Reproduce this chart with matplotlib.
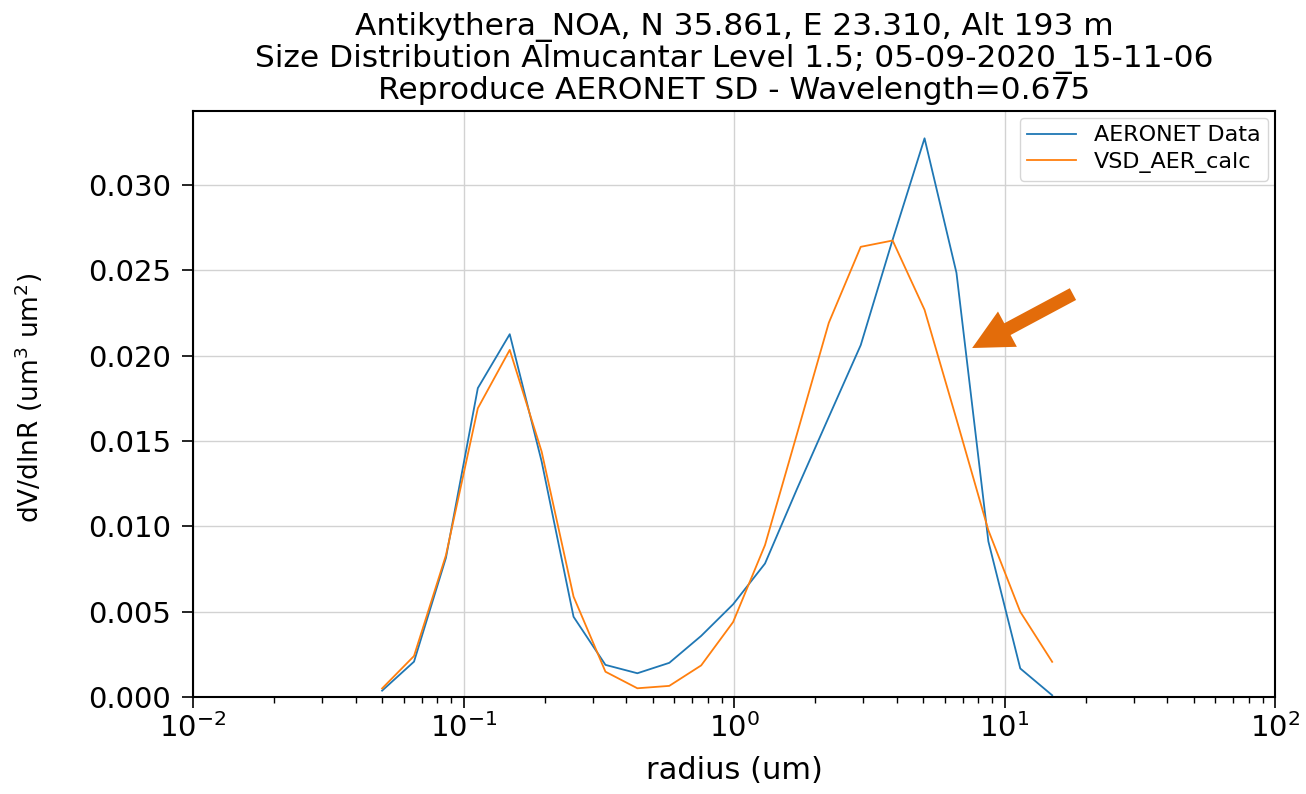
import numpy as np
import matplotlib
matplotlib.use("Agg")
import matplotlib.pyplot as plt
from matplotlib.patches import FancyArrowPatch

# AERONET size-distribution radius bins (um)
radius = [0.050000, 0.065604, 0.086077, 0.112939, 0.148184, 0.194429,
          0.255105, 0.334716, 0.439173, 0.576227, 0.756052, 0.991996,
          1.301571, 1.707757, 2.240702, 2.939966, 3.857452, 5.061260,
          6.640745, 8.713145, 11.432287, 15.000000]

# dV/dlnR retrieved by AERONET
aeronet_sd = [0.00037, 0.00207, 0.00815, 0.0181, 0.02126, 0.0138,
              0.0047, 0.00188, 0.00139, 0.00200, 0.00358, 0.00543,
              0.00782, 0.01218, 0.01641, 0.02062, 0.0268, 0.03274,
              0.02486, 0.00912, 0.00167, 0.0001]

# dV/dlnR reproduced from the fitted modes
vsd_calc = [0.0005, 0.0024, 0.0083, 0.01692, 0.02034, 0.01438,
            0.00588, 0.00148, 0.00051, 0.00065, 0.00185, 0.00439,
            0.0089, 0.0154, 0.02193, 0.02638, 0.02675, 0.02269,
            0.01628, 0.00977, 0.00499, 0.00206]

title_lines = ["Antikythera_NOA, N 35.861, E 23.310, Alt 193 m",
               "Size Distribution Almucantar Level 1.5; 05-09-2020_15-11-06",
               "Reproduce AERONET SD - Wavelength=0.675"]

fig = plt.figure(figsize=(13.06, 7.94), dpi=100)
ax = fig.add_axes([0.1478, 0.1222, 0.8285, 0.7380])

ax.plot(radius, aeronet_sd, color="#1f77b4", lw=1.3, label="AERONET Data")
ax.plot(radius, vsd_calc, color="#ff7f0e", lw=1.3, label="VSD_AER_calc")

ax.set_xscale("log")
ax.set_xlim(1e-2, 1e2)
ax.set_ylim(0, 0.03434)
ax.set_yticks(np.arange(0, 0.0301, 0.005))
ax.yaxis.set_major_formatter(matplotlib.ticker.FormatStrFormatter("%.3f"))

ax.grid(True, which="major", color="#d2d2d2", lw=1.0)
ax.set_axisbelow(True)
for s in ax.spines.values():
    s.set_color("black")
    s.set_linewidth(1.5)
ax.tick_params(axis="both", which="major", labelsize=21, length=8, width=1.2)
ax.tick_params(axis="y", which="major", pad=8)
ax.tick_params(axis="x", which="minor", length=4, width=1.0)

ax.set_xlabel("radius (um)", fontsize=22)
ax.xaxis.set_label_coords(0.5, -0.1)
ax.set_ylabel("dV/dlnR (um$^3$ um$^2$)", fontsize=19)
ax.yaxis.set_label_coords(-0.137, 0.51)
ax.set_title("\n".join(title_lines), fontsize=22.5, linespacing=1.08, pad=9)

ax.legend(loc="upper right", fontsize=16, handlelength=2.2,
          handletextpad=0.8, borderpad=0.35, labelspacing=0.3,
          borderaxespad=0.3)

# highlight the steep coarse-mode decline
arrow = FancyArrowPatch((17.9, 0.02361), (7.59, 0.02045),
                        arrowstyle="simple,head_length=0.6,head_width=0.6,tail_width=0.2",
                        mutation_scale=48, color="#e36c0a", lw=0,
                        shrinkA=0, shrinkB=0, zorder=5)
ax.add_patch(arrow)

fig.savefig("out.png", dpi=100)
